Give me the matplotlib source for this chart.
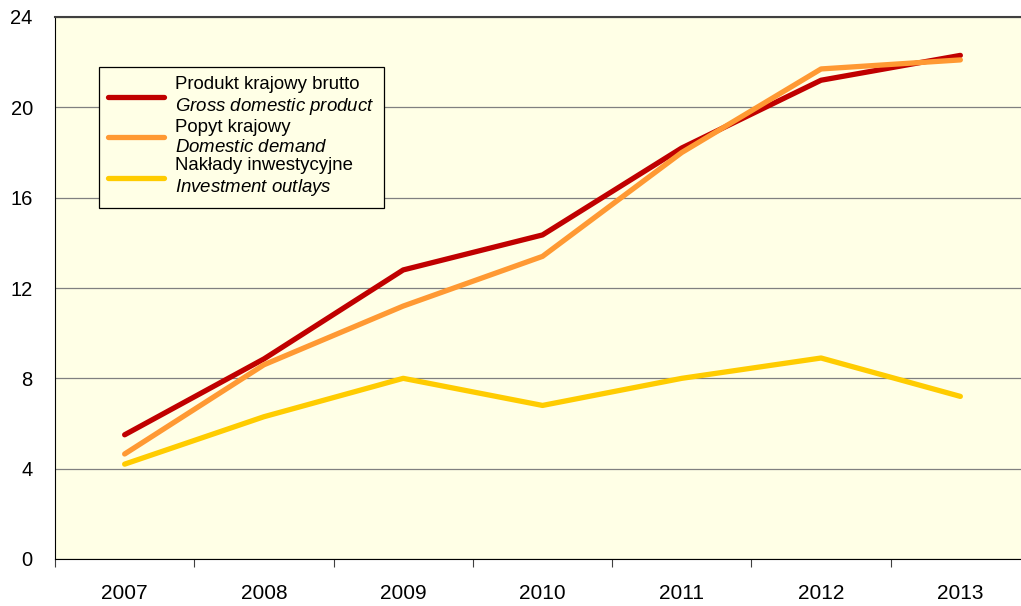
import matplotlib
matplotlib.use("Agg")
import matplotlib.pyplot as plt
import numpy as np

years = ["2007", "2008", "2009", "2010", "2011", "2012", "2013"]
pkb = [5.5, 8.86, 12.8, 14.35, 18.2, 21.2, 22.3]
popyt = [4.65, 8.6, 11.2, 13.4, 18.0, 21.7, 22.1]
naklady = [4.2, 6.3, 8.0, 6.8, 8.0, 8.9, 7.2]

labels = [
    "Produkt krajowy brutto\n$\\mathit{Gross\\ domestic\\ product}$",
    "Popyt krajowy\n$\\mathit{Domestic\\ demand}$",
    "Nakłady inwestycyjne\n$\\mathit{Investment\\ outlays}$",
]
colors = ["#C00000", "#FF9933", "#FFCC00"]

plt.rcParams["font.family"] = ["Liberation Sans", "DejaVu Sans"]
plt.rcParams["mathtext.fontset"] = "custom"
plt.rcParams["mathtext.it"] = "Liberation Sans:italic"
plt.rcParams["mathtext.rm"] = "Liberation Sans"

fig = plt.figure(figsize=(10.21, 6.06), dpi=100)
ax = fig.add_axes([55 / 1021, 47 / 606, 975 / 1021, 542 / 606])
ax.set_facecolor("#FFFFE6")

x = np.arange(len(years))
for vals, lab, c in zip([pkb, popyt, naklady], labels, colors):
    ax.plot(x, vals, color=c, lw=3.8, label=lab, solid_capstyle="round", zorder=3)

ax.set_xlim(-0.5, len(years) - 0.5)
ax.set_ylim(0, 24)
ax.set_yticks(range(0, 25, 4))
ax.yaxis.grid(True, color="#808080", lw=0.9)
ax.set_axisbelow(True)
ax.tick_params(axis="y", length=0, labelsize=14.5, pad=16)

ax.set_xticks(np.arange(-0.5, len(years), 1))
ax.set_xticklabels([])
ax.set_xticks(x, minor=True)
ax.set_xticklabels(years, minor=True)
ax.tick_params(axis="x", which="major", length=6, direction="out", color="#404040")
ax.tick_params(axis="x", which="minor", length=0, labelsize=15, pad=18)

for s in ["left", "bottom"]:
    ax.spines[s].set_color("black")
ax.spines["top"].set_color("#404040")
ax.spines["top"].set_linewidth(1.5)
ax.spines["right"].set_visible(False)

leg = ax.legend(loc="upper left", bbox_to_anchor=(0.045, 0.908), borderaxespad=0,
                fontsize=13.4, frameon=True, fancybox=False, edgecolor="black",
                facecolor="#FFFFE6", framealpha=1, handlelength=3.0,
                labelspacing=0.1, borderpad=0.5, handletextpad=0.6)
leg.get_frame().set_linewidth(0.9)

fig.savefig("out.png", dpi=100)
